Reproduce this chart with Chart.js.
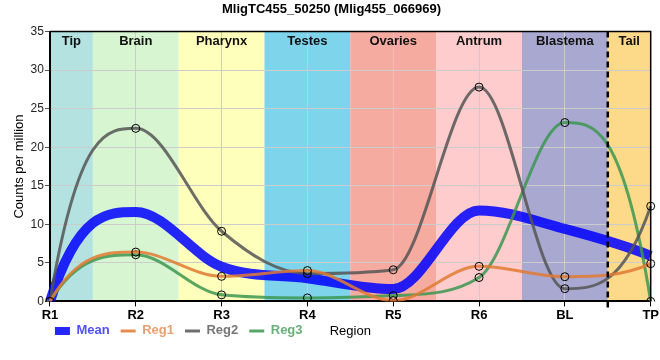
<!DOCTYPE html>
<html>
<head>
<meta charset="utf-8">
<script src="https://cdn.jsdelivr.net/npm/chart.js@4.4.1/dist/chart.umd.min.js"></script>
<style>
  html, body { margin: 0; padding: 0; background: #fff; }
  #wrap { width: 660px; height: 360px; }
</style>
</head>
<body>
<div id="wrap"><canvas id="chart" width="660" height="360"></canvas></div>
<script>
// data
const regions = ['R1', 'R2', 'R3', 'R4', 'R5', 'R6', 'BL', 'TP'];
const meanVals = [0, 11.6, 4.5, 3.0, 1.6, 11.8, 9.4, 5.9];
const reg1Vals = [0, 6.4, 3.25, 4.0, 0.1, 4.55, 3.2, 4.9];
const reg2Vals = [0, 22.45, 9.1, 3.6, 4.1, 27.8, 1.65, 12.35];
const reg3Vals = [0, 6.05, 0.85, 0.45, 0.75, 3.1, 23.2, 0];
const yTicks = [0, 5, 10, 15, 20, 25, 30, 35];

// tissue bands: name, first/last category edge (in category units), colour
const bandNames = ['Tip', 'Brain', 'Pharynx', 'Testes', 'Ovaries', 'Antrum', 'Blastema', 'Tail'];
const bandFrom = [0, 0.5, 1.5, 2.5, 3.5, 4.5, 5.5, 6.5];
const bandTo = [0.5, 1.5, 2.5, 3.5, 4.5, 5.5, 6.5, 7];
const bandColors = ['#b3e2e0', '#d6f5d0', '#ffffbc', '#7ed4ea', '#f5aba0', '#fecccc', '#a8a8d0', '#fdda8a'];
const dashedAt = 6.5;

const seriesNames = ['Mean', 'Reg1', 'Reg2', 'Reg3'];
const textColors = ['#5050ff', '#e8a070', '#777777', '#6aae7a'];

const FONT = '"Liberation Sans", Arial, sans-serif';

function xPix(scale, v) {
  const a = scale.getPixelForValue(Math.floor(v));
  const b = scale.getPixelForValue(Math.min(Math.floor(v) + 1, regions.length - 1));
  return a + (b - a) * (v - Math.floor(v));
}

// the end segments of the reference curves bend harder than chart.js' monotone ends:
// end tangent = 3*secant - 2*inner tangent
function fixEnds(pts) {
  const n = pts.length;
  if (n < 3) return;
  const a = pts[0], b = pts[1];
  let h = b.x - a.x;
  let mb = (b.y - b.cp1y) / (b.x - b.cp1x || 1);
  let m = 3 * (b.y - a.y) / h - 2 * mb;
  a.cp2x = a.x + h / 3;
  a.cp2y = a.y + m * h / 3;
  const y = pts[n - 2], z = pts[n - 1];
  h = z.x - y.x;
  mb = (y.cp2y - y.y) / (y.cp2x - y.x || 1);
  m = 3 * (z.y - y.y) / h - 2 * mb;
  z.cp1x = z.x - h / 3;
  z.cp1y = z.y - m * h / 3;
}

const bandsPlugin = {
  id: 'bands',
  afterLayout(chart) {
    // legend shares the row with the axis title, starting under the plot
    const lg = chart.legend;
    const h = lg.height;
    lg.left = chart.chartArea.left - 6;
    lg.top = chart.chartArea.bottom + 12;
    lg.bottom = lg.top + h;
  },
  beforeDatasetDraw(chart, args) {
    const line = args.meta.dataset;
    line.updateControlPoints(chart.chartArea, 'x');
    fixEnds(args.meta.data);
    line._path = undefined;
  },
  beforeDraw(chart) {
    const ctx = chart.ctx, area = chart.chartArea, x = chart.scales.x;
    ctx.save();
    for (let i = 0; i < bandNames.length; i++) {
      const x0 = xPix(x, bandFrom[i]);
      const x1 = xPix(x, bandTo[i]);
      ctx.fillStyle = bandColors[i];
      ctx.fillRect(x0, area.top, x1 - x0, area.bottom - area.top);
    }
    ctx.restore();
  },
  afterDatasetsDraw(chart) {
    const ctx = chart.ctx, area = chart.chartArea, x = chart.scales.x;
    ctx.save();
    // dashed separator
    const dx = xPix(x, dashedAt);
    ctx.strokeStyle = '#000';
    ctx.lineWidth = 2.5;
    ctx.setLineDash([6, 4]);
    ctx.beginPath();
    ctx.moveTo(dx, area.top);
    ctx.lineTo(dx, area.bottom + 7);
    ctx.stroke();
    ctx.setLineDash([]);
    // band names
    ctx.fillStyle = '#111';
    ctx.font = 'bold 13px ' + FONT;
    ctx.textAlign = 'center';
    ctx.textBaseline = 'middle';
    for (let i = 0; i < bandNames.length; i++) {
      const cx = (xPix(x, bandFrom[i]) + xPix(x, bandTo[i])) / 2;
      ctx.fillText(bandNames[i], cx, area.top + 10);
    }
    ctx.restore();
  },
  afterDraw(chart) {
    const ctx = chart.ctx, area = chart.chartArea;
    ctx.save();
    ctx.strokeStyle = '#000';
    ctx.lineWidth = 1.5;
    ctx.beginPath();
    ctx.moveTo(area.left, area.top);
    ctx.lineTo(area.right, area.top);
    ctx.lineTo(area.right, area.bottom);
    ctx.stroke();
    // x axis title, on the legend row
    ctx.fillStyle = '#000';
    ctx.font = '13px ' + FONT;
    ctx.textAlign = 'center';
    ctx.textBaseline = 'middle';
    ctx.fillText('Region', (area.left + area.right) / 2, area.bottom + 30);
    ctx.restore();
  }
};

function lineSet(label, data, color, width, withPoints) {
  return {
    label: label,
    data: data,
    borderColor: color,
    backgroundColor: color,
    borderWidth: width,
    cubicInterpolationMode: 'monotone',
    fill: false,
    pointRadius: withPoints ? 4 : 0,
    pointBackgroundColor: 'rgba(0,0,0,0)',
    pointBorderColor: '#000',
    pointBorderWidth: 1
  };
}

const ctx = document.getElementById('chart').getContext('2d');
new Chart(ctx, {
  type: 'line',
  data: {
    labels: regions,
    datasets: [
      lineSet('Reg1', reg1Vals, 'rgba(226,122,50,0.85)', 3, true),
      lineSet('Reg2', reg2Vals, 'rgba(85,85,85,0.85)', 3, true),
      lineSet('Reg3', reg3Vals, 'rgba(60,150,80,0.85)', 3, true),
      lineSet('Mean', meanVals, 'rgba(0,0,255,0.85)', 10, false)
    ]
  },
  plugins: [bandsPlugin],
  options: {
    responsive: false,
    animation: false,
    layout: { padding: { left: 11, right: 8, top: 0, bottom: 2 } },
    plugins: {
      title: {
        display: true,
        text: 'MligTC455_50250 (Mlig455_066969)',
        color: '#000',
        font: { family: FONT, size: 13, weight: 'bold' },
        padding: { top: 2, bottom: 14 }
      },
      legend: {
        position: 'bottom',
        align: 'start',
        labels: {
          usePointStyle: true,
          pointStyle: 'line',
          pointStyleWidth: 15,
          padding: 11,
          font: { family: FONT, size: 13, weight: 'bold' },
          sort: (a, b) => seriesNames.indexOf(a.text) - seriesNames.indexOf(b.text),
          generateLabels(chart) {
            return chart.data.datasets.map((ds, i) => {
              const k = seriesNames.indexOf(ds.label);
              return {
                text: ds.label,
                datasetIndex: i,
                fillStyle: ds.borderColor,
                strokeStyle: ds.borderColor,
                lineWidth: ds.label === 'Mean' ? 8 : 3,
                pointStyle: 'line',
                fontColor: textColors[k],
                hidden: false
              };
            });
          }
        }
      },
      tooltip: { enabled: false }
    },
    scales: {
      x: {
        offset: false,
        grid: { color: '#cccccc', tickColor: '#000', tickLength: 5 },
        border: { color: '#000', width: 2 },
        ticks: {
          color: '#000',
          font: { family: FONT, size: 13, weight: 'bold' },
          padding: 1,
          maxRotation: 0
        }
      },
      y: {
        min: 0,
        max: 35,
        afterBuildTicks(axis) { axis.ticks = yTicks.map(v => ({ value: v })); },
        grid: { color: '#cccccc', tickColor: '#555', tickLength: 5 },
        border: { color: '#000', width: 2 },
        ticks: {
          color: '#222',
          font: { family: FONT, size: 12 },
          padding: 1
        },
        title: {
          display: true,
          text: 'Counts per million',
          color: '#000',
          font: { family: FONT, size: 13 },
          padding: { top: 1, bottom: 2 }
        }
      }
    }
  }
});
</script>
</body>
</html>
